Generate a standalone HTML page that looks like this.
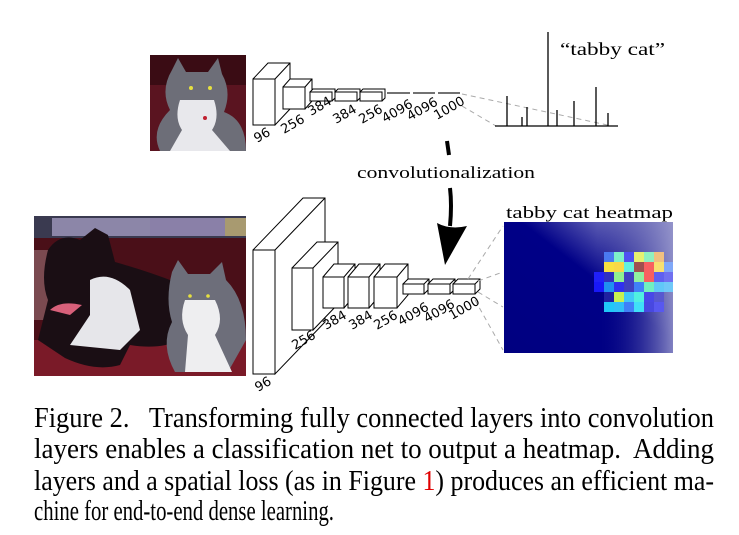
<!DOCTYPE html>
<html><head><meta charset="utf-8"><style>
html,body{margin:0;padding:0;background:#fff;width:739px;height:535px;overflow:hidden}
svg{display:block}
.lb{font-family:"DejaVu Sans","Liberation Sans",sans-serif;font-size:13px;fill:#000}
.sf{font-family:"Liberation Serif",serif;fill:#000}
</style></head><body>
<svg width="739" height="535" viewBox="0 0 739 535" xmlns="http://www.w3.org/2000/svg">
<defs>
<linearGradient id="hg" x1="0" y1="1" x2="1" y2="0">
<stop offset="0" stop-color="#000080"/><stop offset="0.55" stop-color="#000088"/><stop offset="1" stop-color="#c8c8e8"/>
</linearGradient>
<linearGradient id="hg2" x1="0" y1="0" x2="1" y2="0">
<stop offset="0.55" stop-color="#000080" stop-opacity="0"/><stop offset="1" stop-color="#9090c8" stop-opacity="0.9"/>
</linearGradient>
</defs>

<!-- top cat image -->
<rect x="150" y="55" width="96" height="96" fill="#3a0c14"/>
<rect x="150" y="85" width="96" height="66" fill="#5a1420"/>
<path d="M170 110 Q160 90 172 70 L178 58 L186 72 L208 72 L218 58 L222 74 Q232 92 224 112 Q246 120 246 151 L160 151 Q150 130 170 110Z" fill="#6d6e78"/>
<path d="M180 100 L214 100 Q220 118 212 130 L230 151 L170 151 L182 130 Q174 118 180 100Z" fill="#e8e8ec"/>
<circle cx="191" cy="88" r="2" fill="#e6e040"/><circle cx="210" cy="88" r="2" fill="#e6e040"/>
<circle cx="205" cy="118" r="2" fill="#c02030"/>

<!-- top network -->
<g fill="#fff" stroke="#000" stroke-width="1">
<path d="M253 79 L268 63 L290 63 L290 109 L275 125 Z"/><rect x="253" y="79" width="22" height="46"/><path d="M275 79 L290 63"/>
<path d="M283 87 L290 79 L312 79 L312 101 L305 109 Z"/><rect x="283" y="87" width="22" height="22"/><path d="M305 87 L312 79"/>
<path d="M310 92 L313 89 L335 89 L335 98 L332 101Z"/><rect x="310" y="92" width="22" height="9"/>
<path d="M335 92 L338 89 L360 89 L360 98 L357 101Z"/><rect x="335" y="92" width="22" height="9"/>
<path d="M360 92 L363 89 L385 89 L385 98 L382 101Z"/><rect x="360" y="92" width="22" height="9"/>
</g>
<g stroke="#444" stroke-width="1.5"><path d="M387 93 H410 M413 93 H435 M438 93 H460"/></g>
<g stroke="#aaa" stroke-dasharray="5,4" fill="none"><path d="M462 94 L612 126 M462 106 L496 126"/></g>
<g stroke="#000" stroke-width="1.3"><path d="M495 126 H618 M507 126 V96 M522 126 V117 M527 126 V107 M548 126 V32 M557 126 V110 M574 126 V101 M596 126 V87 M608 126 V113"/></g>
<text class="sf" x="560" y="55" font-size="18" textLength="105" lengthAdjust="spacingAndGlyphs">“tabby cat”</text>
<g class="lb">
<text transform="translate(257,143) rotate(-30)">96</text>
<text transform="translate(284,134) rotate(-30)">256</text>
<text transform="translate(311,116) rotate(-30)">384</text>
<text transform="translate(336,124) rotate(-30)">384</text>
<text transform="translate(362,124) rotate(-30)">256</text>
<text transform="translate(385,123) rotate(-30)">4096</text>
<text transform="translate(410,121) rotate(-30)">4096</text>
<text transform="translate(437,120) rotate(-30)">1000</text>
</g>

<!-- arrow -->
<text class="sf" x="357" y="178" font-size="17" textLength="178" lengthAdjust="spacingAndGlyphs">convolutionalization</text>
<path d="M447 141 L449 155" stroke="#000" stroke-width="4"/>
<path d="M450 188 Q452 205 450 226" stroke="#000" stroke-width="4" fill="none"/>
<path d="M437 223 Q450 230 467 226 L445 265 Z" fill="#000"/>

<!-- bottom image -->
<rect x="34" y="216" width="212" height="160" fill="#4a0f18"/>
<rect x="34" y="216" width="212" height="22" fill="#3a3a50"/>
<rect x="52" y="218" width="100" height="18" fill="#8c86a8"/>
<rect x="150" y="218" width="75" height="18" fill="#8a80a8"/>
<rect x="225" y="218" width="21" height="18" fill="#a89a70"/>
<rect x="34" y="340" width="212" height="36" fill="#7a1a28"/>
<rect x="34" y="250" width="14" height="70" fill="#7a4a50"/>
<path d="M48 250 Q60 232 80 240 L95 228 L108 235 L115 262 Q150 272 175 282 L180 340 Q160 350 130 345 L120 365 Q95 372 65 358 L38 340 L48 300 Q40 280 48 250Z" fill="#1a0e14"/>
<path d="M90 280 Q110 270 130 290 L140 330 L120 350 L70 345 L90 315 Z" fill="#e6e6ea"/>
<path d="M50 310 Q60 300 82 305 L70 315 Z" fill="#d8607a"/>
<path d="M172 272 L178 260 L188 274 L210 274 L222 262 L226 280 Q246 300 246 340 L228 372 L175 372 Q160 345 172 322 Q165 300 172 272Z" fill="#6d6e7a"/>
<path d="M185 300 L215 300 Q225 320 215 335 L232 372 L185 372 L188 335 Q178 320 185 300Z" fill="#eeeef0"/>
<circle cx="190" cy="296" r="1.8" fill="#e6e040"/><circle cx="208" cy="296" r="1.8" fill="#e6e040"/>

<!-- bottom network -->
<g fill="#fff" stroke="#000" stroke-width="1">
<path d="M253 250 L303 198 L325 198 L325 322 L275 374 Z"/><rect x="253" y="250" width="22" height="124"/><path d="M275 250 L325 198"/>
<path d="M292 268 L317 242 L338 242 L338 304 L313 330 Z"/><rect x="292" y="268" width="21" height="62"/><path d="M313 268 L338 242"/>
<path d="M323 277 L334 264 L355 264 L355 295 L344 308Z"/><rect x="323" y="277" width="21" height="31"/><path d="M344 277 L355 264"/>
<path d="M348 277 L359 264 L380 264 L380 295 L369 308Z"/><rect x="348" y="277" width="21" height="31"/><path d="M369 277 L380 264"/>
<path d="M374 277 L385 264 L408 264 L408 295 L397 308Z"/><rect x="374" y="277" width="23" height="31"/><path d="M397 277 L408 264"/>
<path d="M403 284 L408 279 L429 279 L429 289 L424 294Z"/><rect x="403" y="284" width="21" height="10"/><path d="M424 284 L429 279"/>
<path d="M428 284 L433 279 L455 279 L455 289 L450 294Z"/><rect x="428" y="284" width="22" height="10"/><path d="M450 284 L455 279"/>
<path d="M453 284 L458 279 L480 279 L480 289 L475 294Z"/><rect x="453" y="284" width="22" height="10"/><path d="M475 284 L480 279"/>
</g>
<g stroke="#aaa" stroke-dasharray="5,4" fill="none">
<path d="M468 279 L503 226 M478 281 L503 272 M478 292 L503 307 M475 300 L503 350"/>
</g>
<g class="lb">
<text transform="translate(258,392) rotate(-30)">96</text>
<text transform="translate(295,350) rotate(-30)">256</text>
<text transform="translate(326,330) rotate(-30)">384</text>
<text transform="translate(352,330) rotate(-30)">384</text>
<text transform="translate(377,330) rotate(-30)">256</text>
<text transform="translate(401,326) rotate(-30)">4096</text>
<text transform="translate(427,323) rotate(-30)">4096</text>
<text transform="translate(452,320) rotate(-30)">1000</text>
</g>

<!-- heatmap -->
<text class="sf" x="506" y="218" font-size="17" textLength="167" lengthAdjust="spacingAndGlyphs">tabby cat heatmap</text>
<rect x="504" y="222" width="169" height="131" fill="#000080"/>
<rect x="504" y="222" width="169" height="131" fill="url(#hg)" opacity="0.9"/>
<rect x="504" y="222" width="169" height="131" fill="url(#hg2)"/>
<g>
<rect x="604" y="252" width="10" height="10" fill="#4a7af0"/><rect x="614" y="252" width="10" height="10" fill="#7ef0c8"/><rect x="624" y="252" width="10" height="10" fill="#5050f0"/><rect x="634" y="252" width="10" height="10" fill="#e8f070"/><rect x="644" y="252" width="10" height="10" fill="#90f0c0"/><rect x="654" y="252" width="10" height="10" fill="#f0c080"/>
<rect x="604" y="262" width="10" height="10" fill="#f8e040"/><rect x="614" y="262" width="10" height="10" fill="#f8d848"/><rect x="624" y="262" width="10" height="10" fill="#60f0e0"/><rect x="634" y="262" width="10" height="10" fill="#a05050"/><rect x="644" y="262" width="10" height="10" fill="#f86060"/><rect x="654" y="262" width="10" height="10" fill="#f8e070"/><rect x="664" y="262" width="9" height="10" fill="#80a8f8"/>
<rect x="594" y="272" width="10" height="10" fill="#2020f8"/><rect x="604" y="272" width="10" height="10" fill="#3030c0"/><rect x="614" y="272" width="10" height="10" fill="#90f090"/><rect x="624" y="272" width="10" height="10" fill="#4040c0"/><rect x="634" y="272" width="10" height="10" fill="#90f0a0"/><rect x="644" y="272" width="10" height="10" fill="#f86060"/><rect x="654" y="272" width="10" height="10" fill="#6060f0"/><rect x="664" y="272" width="9" height="10" fill="#7070f0"/>
<rect x="594" y="282" width="10" height="10" fill="#1818f8"/><rect x="604" y="282" width="10" height="10" fill="#2090f0"/><rect x="614" y="282" width="10" height="10" fill="#3030f0"/><rect x="624" y="282" width="10" height="10" fill="#4040c0"/><rect x="634" y="282" width="10" height="10" fill="#4080f8"/><rect x="644" y="282" width="10" height="10" fill="#70f0c0"/><rect x="654" y="282" width="10" height="10" fill="#60c8f8"/><rect x="664" y="282" width="9" height="10" fill="#70c8f8"/>
<rect x="604" y="292" width="10" height="10" fill="#2020a0"/><rect x="614" y="292" width="10" height="10" fill="#c8f050"/><rect x="624" y="292" width="10" height="10" fill="#40c8f8"/><rect x="634" y="292" width="10" height="10" fill="#50f0e0"/><rect x="644" y="292" width="10" height="10" fill="#4848e8"/><rect x="654" y="292" width="10" height="10" fill="#5858d0"/>
<rect x="604" y="302" width="10" height="10" fill="#20c8f8"/><rect x="614" y="302" width="10" height="10" fill="#30c0f8"/><rect x="624" y="302" width="10" height="10" fill="#4080f8"/><rect x="634" y="302" width="10" height="10" fill="#40e0f8"/><rect x="644" y="302" width="10" height="10" fill="#4848e0"/><rect x="654" y="302" width="10" height="10" fill="#5858f0"/>
</g>

<!-- caption -->
<g class="sf" font-size="28">
<text x="34" y="427" textLength="680" lengthAdjust="spacingAndGlyphs" xml:space="preserve">Figure 2.   Transforming fully connected layers into convolution</text>
<text x="34" y="458" textLength="680" lengthAdjust="spacingAndGlyphs" xml:space="preserve">layers enables a classification net to output a heatmap.  Adding</text>
<text x="34" y="490" textLength="680" lengthAdjust="spacingAndGlyphs">layers and a spatial loss (as in Figure <tspan fill="#e00000">1</tspan>) produces an efficient ma-</text>
<text x="34" y="520" textLength="300" lengthAdjust="spacingAndGlyphs">chine for end-to-end dense learning.</text>
</g>
</svg>
</body></html>
